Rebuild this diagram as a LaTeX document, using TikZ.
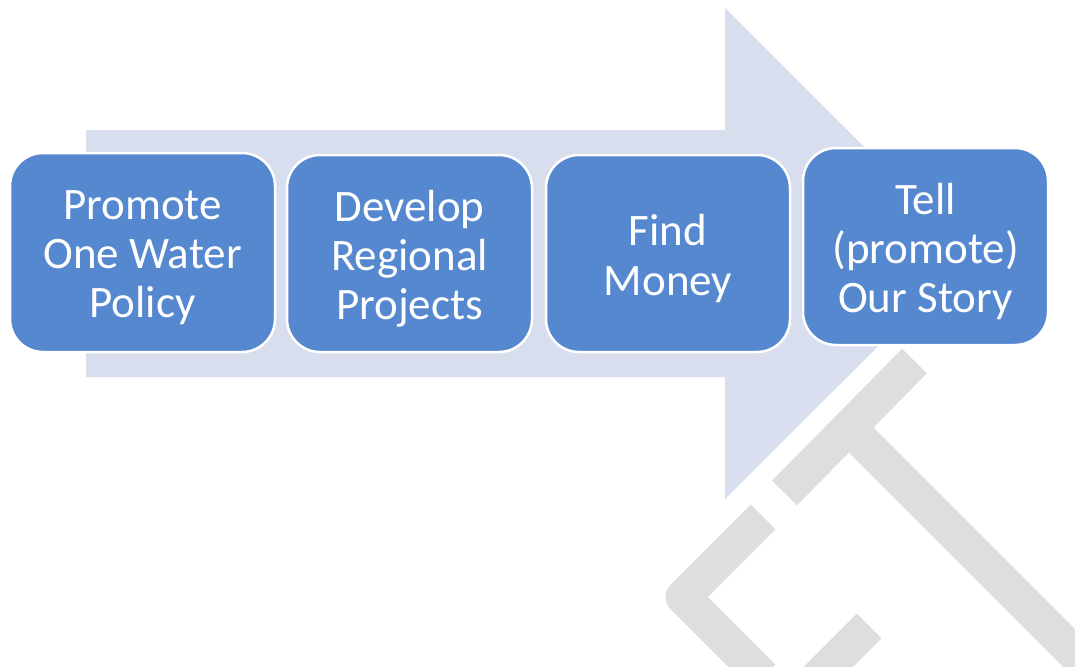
\documentclass[tikz,border=0pt]{standalone}
\usepackage{fontspec}
\setmainfont{Carlito}
\definecolor{boxblue}{RGB}{86,136,208}
\definecolor{arrowbg}{RGB}{217,222,238}
\definecolor{wmgray}{RGB}{222,222,222}
\tikzset{
  stepbox/.style={rectangle, rounded corners=33pt, fill=boxblue, draw=white,
    line width=2.5pt, inner sep=0pt, minimum height=197pt},
  steptext/.style={text=white, align=center, inner sep=0pt, yshift=-5pt,
    font=\fontsize{45}{49}\selectfont},
  wmstroke/.style={draw=wmgray, line width=35pt, line cap=butt, line join=round},
  bigarrow/.style={fill=arrowbg, draw=none}
}
\begin{document}
\begin{tikzpicture}[x=1pt,y=-1pt]
\useasboundingbox (0,0) rectangle (1075,666);
\begin{scope}
\clip (0,0) rectangle (1075,666);
% watermark
\draw[wmstroke] (784.5,493) -- (914.5,361);
\draw[wmstroke] (849,428) -- (1090,669);
\draw[wmstroke] (763,517) -- (683,597) -- (763,677);
\draw[wmstroke] (869,626) -- (815,680);
\end{scope}
% big arrow
\fill[bigarrow] (86,130) -- (725,130) -- (725,8) -- (971,253.5) -- (725,499) -- (725,377) -- (86,377) -- cycle;
% boxes
\node[stepbox, minimum width=265pt, minimum height=199pt] (b1) at (142.5,252.5) {};
\node[stepbox, minimum width=245pt] (b2) at (409.5,253.5) {};
\node[stepbox, minimum width=244pt] (b3) at (668,253.5) {};
\node[stepbox, minimum width=245pt] (b4) at (925.5,246.5) {};
\node[steptext] (t1) at (b1.center) {Promote\\One Water\\Policy};
\node[steptext] (t2) at (b2.center) {Develop\\Regional\\Projects};
\node[steptext] (t3) at (b3.center) {Find\\Money};
\node[steptext] (t4) at (b4.center) {Tell\\(promote)\\Our Story};
\end{tikzpicture}
\end{document}
